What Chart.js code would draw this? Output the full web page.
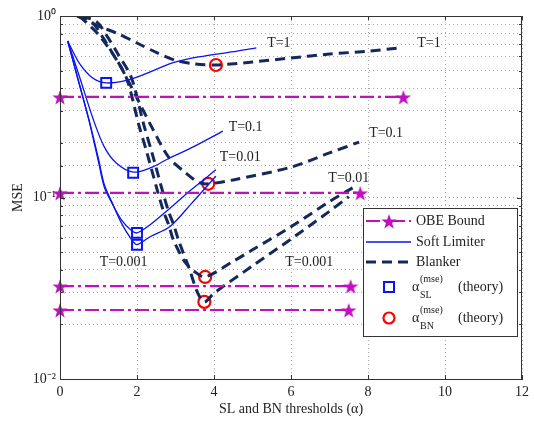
<!DOCTYPE html>
<html>
<head>
<meta charset="utf-8">
<script src="https://cdn.jsdelivr.net/npm/chart.js@4"></script>
<style>
  html, body { margin: 0; padding: 0; background: #fff; }
  #wrap { width: 534px; height: 422px; }
</style>
</head>
<body>
<div id="wrap"><canvas id="myChart" width="534" height="422"></canvas></div>
<script>
// --- data ---
const xTicks = [0, 2, 4, 6, 8, 10, 12]

// soft limiter curves
const slX1 = [0.2, 0.5, 0.85, 1.2, 1.7, 2.2, 2.9, 3.6, 4.6, 5.1]
const slY1 = [0.728, 0.55, 0.455, 0.428, 0.44, 0.478, 0.55, 0.595, 0.64, 0.667]
const slX01 = [0.2, 0.5, 0.87, 1.15, 1.46, 1.9, 2.36, 2.8, 3.5, 4.23]
const slY01 = [0.728, 0.467, 0.267, 0.19, 0.155, 0.138, 0.146, 0.163, 0.192, 0.232]
const slX001 = [0.2, 0.5, 0.75, 1.0, 1.15, 1.35, 1.6, 1.85, 2.0, 2.35, 2.85, 3.4, 4.05]
const slY001 = [0.728, 0.42, 0.267, 0.157, 0.114, 0.093, 0.075, 0.066, 0.0638, 0.071, 0.087, 0.11, 0.142]
const slX0001 = [0.2, 0.5, 0.75, 1.0, 1.15, 1.35, 1.6, 1.85, 2.0, 2.35, 2.85, 3.4, 4.05]
const slY0001 = [0.728, 0.425, 0.27, 0.163, 0.118, 0.094, 0.072, 0.059, 0.055, 0.061, 0.069, 0.092, 0.131]

// blanker curves
const bnX1 = [0.45, 1, 1.5, 2, 2.5, 3, 3.5, 4.05, 5, 6, 7, 8, 8.8]
const bnY1 = [1.0, 0.88, 0.8, 0.71, 0.63, 0.57, 0.545, 0.537, 0.558, 0.587, 0.617, 0.64, 0.667]
const bnX01 = [0.5, 1, 1.5, 1.95, 2.38, 2.82, 3.26, 3.6, 3.85, 4.5, 6, 7, 7.77]
const bnY01 = [1.0, 0.79, 0.56, 0.37, 0.245, 0.167, 0.137, 0.121, 0.119, 0.125, 0.147, 0.176, 0.202]
const bnX001 = [0.45, 0.82, 1.1, 1.36, 1.72, 2.05, 2.26, 2.5, 2.68, 2.83, 2.95, 3.25, 3.5, 3.77, 4.5, 5, 6, 7, 7.6]
const bnY001 = [1.0, 0.93, 0.77, 0.625, 0.46, 0.25, 0.176, 0.115, 0.085, 0.07, 0.058, 0.044, 0.039, 0.0365, 0.0445, 0.0515, 0.069, 0.095, 0.113]
const bnX0001 = [0.55, 0.95, 1.23, 1.49, 1.85, 2.18, 2.39, 2.63, 2.81, 2.96, 3.08, 3.35, 3.57, 3.75, 4, 5, 6, 7, 7.5]
const bnY0001 = [1.0, 0.93, 0.77, 0.625, 0.46, 0.25, 0.176, 0.115, 0.085, 0.07, 0.058, 0.041, 0.03, 0.0266, 0.0297, 0.042, 0.059, 0.084, 0.101]

// theory optimum markers
const slOptX = [1.2, 1.9, 2.0, 2.0]
const slOptY = [0.428, 0.137, 0.0638, 0.0549]
const bnOptX = [4.05, 3.85, 3.77, 3.75]
const bnOptY = [0.537, 0.119, 0.0365, 0.0266]

// OBE bound levels and where each line stops
const obeLevel = [0.358, 0.106, 0.0325, 0.024]
const obeEnd = [8.92, 7.8, 7.55, 7.5]

// curve labels
const labelText = ['T=1', 'T=1', 'T=0.1', 'T=0.1', 'T=0.01', 'T=0.01', 'T=0.001', 'T=0.001']
const labelX = [5.38, 9.28, 4.38, 8.03, 4.15, 6.97, 1.03, 5.85]
const labelY = [0.71, 0.71, 0.245, 0.227, 0.167, 0.128, 0.0441, 0.0441]

const SL_COLOR = '#0a14f0'
const BN_COLOR = '#14285c'
const OBE_COLOR = '#c010c0'
const BN_DASH = [10, 6]
const OBE_DASH = [14, 4, 3, 4]
const FONT = "'Liberation Serif', 'Times New Roman', serif"

function pts(xs, ys) {
  return xs.map((x, i) => ({ x: x, y: ys[i] }))
}

// filled five point star used as marker
function makeStar(size, color) {
  const c = document.createElement('canvas')
  c.width = size
  c.height = size
  const g = c.getContext('2d')
  const r1 = size / 2, r2 = size / 2 * 0.4
  g.beginPath()
  for (let i = 0; i < 10; i++) {
    const r = i % 2 === 0 ? r1 : r2
    const a = -Math.PI / 2 + i * Math.PI / 5
    const px = size / 2 + r * Math.cos(a)
    const py = size / 2 + 1 + r * Math.sin(a)
    if (i === 0) g.moveTo(px, py)
    else g.lineTo(px, py)
  }
  g.closePath()
  g.fillStyle = color
  g.fill()
  return c
}
const star = makeStar(16, OBE_COLOR)

function slLine(xs, ys) {
  return {
    data: pts(xs, ys), showLine: true, borderColor: SL_COLOR, borderWidth: 1.3,
    pointRadius: 0, tension: 0.3
  }
}
function bnLine(xs, ys) {
  return {
    data: pts(xs, ys), showLine: true, borderColor: BN_COLOR, borderWidth: 3,
    borderDash: BN_DASH, pointRadius: 0, tension: 0.3
  }
}

const datasets = []
obeLevel.forEach((lv, i) => {
  datasets.push({
    data: [{ x: 0, y: lv }, { x: obeEnd[i], y: lv }], showLine: true,
    borderColor: OBE_COLOR, borderWidth: 2.2, borderDash: OBE_DASH,
    pointStyle: star, pointRadius: 8, clip: false
  })
})
datasets.push(slLine(slX1, slY1))
datasets.push(slLine(slX01, slY01))
datasets.push(slLine(slX001, slY001))
datasets.push(slLine(slX0001, slY0001))
datasets.push(bnLine(bnX1, bnY1))
datasets.push(bnLine(bnX01, bnY01))
datasets.push(bnLine(bnX001, bnY001))
datasets.push(bnLine(bnX0001, bnY0001))
datasets.push({
  data: pts(slOptX, slOptY), showLine: false, pointStyle: 'rect', pointRadius: 7,
  borderColor: SL_COLOR, borderWidth: 2, backgroundColor: 'rgba(0,0,0,0)'
})
datasets.push({
  data: pts(bnOptX, bnOptY), showLine: false, pointStyle: 'circle', pointRadius: 6,
  borderColor: '#ff0000', borderWidth: 2.2, backgroundColor: 'rgba(0,0,0,0)'
})

const supMap = { '-': '\u207B', '0': '\u2070', '1': '\u00B9', '2': '\u00B2' }

// box, inward ticks, curve labels and legend
const extras = {
  id: 'extras',
  afterDraw(chart) {
    const ctx = chart.ctx
    const ca = chart.chartArea
    const xs = chart.scales.x, ys = chart.scales.y
    ctx.save()
    ctx.strokeStyle = '#333'
    ctx.lineWidth = 1
    ctx.strokeRect(ca.left + 0.5, ca.top + 0.5, ca.right - ca.left - 1, ca.bottom - ca.top)
    ctx.beginPath()
    xs.ticks.forEach(t => {
      const p = Math.round(xs.getPixelForValue(t.value)) + 0.5
      ctx.moveTo(p, ca.bottom); ctx.lineTo(p, ca.bottom - 4)
      ctx.moveTo(p, ca.top); ctx.lineTo(p, ca.top + 4)
    })
    ys.ticks.forEach(t => {
      const e = Math.log10(t.value)
      const len = Math.abs(e - Math.round(e)) < 1e-9 ? 5 : 3
      const p = Math.round(ys.getPixelForValue(t.value)) + 0.5
      ctx.moveTo(ca.left, p); ctx.lineTo(ca.left + len, p)
      ctx.moveTo(ca.right, p); ctx.lineTo(ca.right - len, p)
    })
    ctx.stroke()

    ctx.fillStyle = '#222'
    ctx.font = '14px ' + FONT
    ctx.textBaseline = 'middle'
    ctx.textAlign = 'left'
    labelText.forEach((s, i) => {
      ctx.fillText(s, xs.getPixelForValue(labelX[i]), ys.getPixelForValue(labelY[i]))
    })

    // legend
    const bx = ca.right - 159, by = ca.bottom - 171, bw = 154, bh = 128
    ctx.fillStyle = '#fff'
    ctx.fillRect(bx, by, bw, bh)
    ctx.strokeStyle = '#333'
    ctx.strokeRect(bx + 0.5, by + 0.5, bw, bh)
    const l1 = bx + 3, l2 = bx + 48, lm = bx + 26, tx = bx + 53
    const rows = [by + 13, by + 34, by + 54, by + 79, by + 110]
    ctx.lineWidth = 2.2
    ctx.strokeStyle = OBE_COLOR
    ctx.setLineDash(OBE_DASH)
    ctx.beginPath(); ctx.moveTo(l1, rows[0]); ctx.lineTo(l2, rows[0]); ctx.stroke()
    ctx.drawImage(star, lm - 8, rows[0] - 8)
    ctx.setLineDash([])
    ctx.lineWidth = 1.3
    ctx.strokeStyle = SL_COLOR
    ctx.beginPath(); ctx.moveTo(l1, rows[1]); ctx.lineTo(l2, rows[1]); ctx.stroke()
    ctx.lineWidth = 3
    ctx.strokeStyle = BN_COLOR
    ctx.setLineDash(BN_DASH)
    ctx.beginPath(); ctx.moveTo(l1, rows[2]); ctx.lineTo(l2, rows[2]); ctx.stroke()
    ctx.setLineDash([])
    ctx.lineWidth = 2
    ctx.strokeStyle = SL_COLOR
    ctx.strokeRect(lm - 5, rows[3] - 5, 10, 10)
    ctx.lineWidth = 2.2
    ctx.strokeStyle = '#ff0000'
    ctx.beginPath(); ctx.arc(lm, rows[4], 5.5, 0, Math.PI * 2); ctx.stroke()

    ctx.fillStyle = '#222'
    ctx.font = '14px ' + FONT
    ctx.fillText('OBE Bound', tx, rows[0])
    ctx.fillText('Soft Limiter', tx, rows[1])
    ctx.fillText('Blanker', tx, rows[2])
    ;[['SL', rows[3]], ['BN', rows[4]]].forEach(([sub, y]) => {
      ctx.font = '14px ' + FONT
      ctx.fillText('\u03B1', tx - 4, y)
      ctx.fillText('(theory)', tx + 42, y)
      ctx.font = '10px ' + FONT
      ctx.fillText('(mse)', tx + 4, y - 8)
      ctx.fillText(sub, tx + 4, y + 8)
    })
    ctx.restore()
  }
}

new Chart(document.getElementById('myChart').getContext('2d'), {
  type: 'scatter',
  data: { datasets: datasets },
  options: {
    responsive: false,
    animation: false,
    events: [],
    layout: { padding: { top: 16, right: 6, left: 0, bottom: 0 } },
    plugins: { legend: { display: false }, tooltip: { enabled: false } },
    scales: {
      x: {
        type: 'linear', min: 0, max: 12,
        afterFit: s => { s.height = 43 },
        afterBuildTicks: s => { s.ticks = xTicks.map(v => ({ value: v })) },
        ticks: { color: '#222', font: { family: FONT, size: 14 }, padding: 5 },
        grid: { color: '#aaa', drawTicks: false },
        border: { color: '#333', dash: [1, 3] },
        title: { display: true, text: 'SL and BN thresholds (\u03B1)', color: '#222',
          font: { family: FONT, size: 14 }, padding: { top: 0, bottom: 4 } }
      },
      y: {
        type: 'logarithmic', min: 0.01, max: 1,
        afterFit: s => { s.width = 60 },
        ticks: {
          autoSkip: false, color: '#222', font: { family: FONT, size: 14 }, padding: 4,
          callback: v => {
            const e = Math.log10(v)
            if (Math.abs(e - Math.round(e)) > 1e-9) return ''
            return '10' + String(Math.round(e)).split('').map(c => supMap[c]).join('')
          }
        },
        grid: { color: '#aaa', drawTicks: false },
        border: { color: '#333', dash: [1, 3] },
        title: { display: true, text: 'MSE', color: '#222',
          font: { family: FONT, size: 14 }, padding: { top: 10, bottom: 0 } }
      }
    }
  },
  plugins: [extras]
})
</script>
</body>
</html>
